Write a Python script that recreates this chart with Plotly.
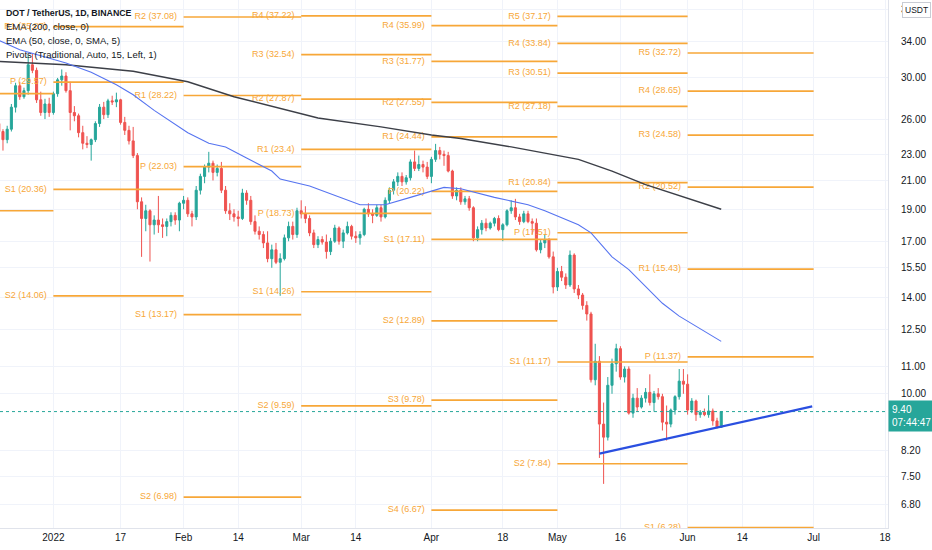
import numpy as np
import pandas as pd
import plotly.graph_objects as go

FONT = "Liberation Sans, Arial, sans-serif"
UP, DOWN = "#26a69a", "#ef5350"
PIVOT_COLOR = "#f7a738"

# --- daily DOT/USDT candles, first one is 2021-12-19 ------------------------
FIRST_CANDLE = "2021-12-19"
OPEN = [
    # Dec
    25.6, 24.9, 24.2, 25.1, 27.1, 29.2, 28.1, 28.7, 31.4, 30.8, 27.8, 26.6, 27.4,
    # Jan
    26.6, 28.4, 29.8, 30.2, 28.7, 26.6, 26.3, 24.8, 23.9, 23.8, 24.2, 25.6, 27.1, 26.4, 27.7,
    27.6, 27.8, 25.7, 25.0, 24.1, 22.9, 19.5, 18.4, 18.9, 18.0, 18.3, 18.0, 17.9, 18.2, 18.6, 18.3,
    # Feb
    19.4, 19.6, 18.7, 18.5, 20.3, 21.3, 22.0, 22.3, 21.6, 21.9, 20.3, 18.9, 18.7, 18.5,
    18.4, 20.1, 19.6, 18.2, 17.6, 17.4, 16.9, 16.0, 16.5, 15.8, 16.0, 17.2, 17.9, 17.4,
    # Mar
    18.9, 18.7, 18.4, 17.5, 16.8, 17.1, 16.95, 16.4, 17.0, 17.8, 17.0, 17.5, 17.9, 17.3, 17.2,
    17.4, 19.0, 18.7, 18.6, 19.1, 18.5, 19.6, 20.3, 20.9, 21.3, 20.9, 21.2, 22.4, 21.9, 22.2, 22.0,
    # Apr
    21.3, 22.6, 23.3, 23.0, 22.9, 21.7, 19.9, 20.3, 19.5, 19.7, 19.1, 17.2, 17.7, 18.1, 17.8,
    18.1, 18.4, 17.7, 18.0, 18.9, 19.1, 18.5, 18.2, 18.7, 18.2, 18.1, 16.5, 16.9, 17.1, 16.1,
    # May
    14.5, 15.3, 15.0, 14.6, 16.2, 14.4, 14.1, 13.6, 13.2, 10.5, 11.2, 9.0, 8.6, 10.3, 11.1,
    11.7, 10.6, 10.9, 9.35, 9.85, 9.55, 9.85, 10.05, 9.7, 10.0, 9.9, 9.06, 9.0, 9.45, 9.9, 10.45,
    # Jun
    10.34, 9.45, 9.75, 9.3, 9.38, 9.3, 9.42, 9.1, 8.9,
]
HIGH = [
    26.3, 25.1, 25.4, 27.4, 29.5, 29.6, 29.0, 32.5, 32.6, 31.1, 28.6, 27.9, 28.0,
    28.6, 30.0, 30.9, 30.6, 29.6, 27.2, 26.5, 25.4, 24.5, 24.3, 25.8, 27.4, 27.6, 27.9, 28.2,
    28.5, 27.9, 26.2, 25.4, 25.3, 23.1, 19.8, 19.3, 19.0, 18.6, 19.9, 18.4, 18.4, 18.8, 18.8, 19.5,
    19.9, 19.8, 18.9, 20.6, 21.5, 22.2, 23.2, 22.5, 22.2, 22.4, 20.6, 19.4, 19.0, 18.9,
    20.4, 20.3, 19.9, 18.6, 17.9, 17.6, 17.6, 16.8, 16.9, 16.3, 17.4, 18.2, 18.2, 19.1,
    19.6, 19.2, 18.6, 17.7, 17.3, 17.3, 17.4, 17.2, 18.0, 17.9, 17.7, 18.2, 18.0, 17.6, 17.6,
    19.1, 19.4, 19.0, 19.3, 19.3, 19.8, 20.5, 21.1, 21.6, 21.6, 21.4, 22.6, 23.3, 22.9, 22.5, 22.4,
    22.8, 23.85, 23.6, 23.3, 23.2, 21.8, 20.5, 20.5, 19.9, 19.9, 19.2, 17.9, 18.3, 18.4, 18.2,
    18.5, 18.6, 18.1, 19.0, 19.6, 19.7, 18.7, 18.9, 18.9, 18.4, 18.4, 17.1, 17.4, 17.2, 16.4,
    15.5, 15.6, 15.2, 16.46, 16.3, 14.6, 14.2, 13.8, 13.3, 11.9, 11.4, 9.7, 10.6, 11.3, 11.9,
    11.8, 11.0, 11.0, 10.0, 10.2, 9.95, 10.2, 10.7, 10.1, 10.2, 10.0, 9.6, 9.5, 9.95, 10.9, 10.9,
    10.7, 9.85, 9.8, 9.45, 9.5, 9.95, 9.5, 9.2, 9.42,
]
LOW = [
    24.6, 23.3, 23.9, 24.9, 26.6, 27.8, 27.9, 28.3, 30.5, 27.5, 26.3, 26.0, 26.2,
    26.4, 28.1, 29.2, 28.5, 25.0, 25.8, 24.4, 23.4, 23.5, 22.5, 24.0, 25.3, 26.0, 26.1, 27.3,
    27.1, 25.5, 24.6, 23.8, 22.7, 19.0, 16.1, 17.6, 15.84, 17.4, 17.5, 17.2, 17.3, 17.9, 18.0, 17.6,
    19.0, 18.5, 17.9, 18.3, 20.0, 20.8, 21.6, 21.0, 21.3, 20.1, 18.7, 18.3, 18.2, 17.9,
    18.3, 19.3, 18.0, 17.4, 17.1, 16.6, 15.8, 15.5, 15.7, 14.06, 15.9, 17.0, 17.1, 17.2,
    18.4, 18.1, 17.3, 16.6, 16.6, 16.8, 16.0, 16.2, 16.9, 16.8, 16.6, 17.4, 17.1, 16.9, 16.8,
    17.3, 18.5, 18.1, 18.5, 18.2, 18.4, 19.4, 20.0, 20.6, 20.6, 20.7, 21.0, 21.7, 21.7, 21.6, 21.1,
    20.8, 22.4, 22.6, 22.1, 21.6, 19.7, 19.6, 19.3, 19.3, 18.9, 17.0, 17.0, 17.4, 17.6, 17.7,
    17.9, 17.6, 17.0, 17.9, 18.7, 18.3, 18.0, 18.1, 18.1, 17.4, 16.4, 16.3, 16.6, 16.0, 14.18,
    14.3, 14.8, 14.4, 14.5, 14.2, 13.9, 13.4, 12.9, 10.4, 10.3, 8.0, 7.31, 8.5, 10.0, 10.8,
    10.5, 10.4, 9.3, 9.2, 9.4, 9.5, 9.7, 9.6, 9.4, 9.8, 8.8, 8.5, 8.9, 9.3, 9.8, 10.0,
    9.3, 9.35, 9.1, 9.2, 9.25, 9.2, 8.95, 8.86, 8.88,
]
CLOSE = [
    24.9, 24.2, 25.1, 27.1, 29.2, 28.1, 28.7, 31.4, 30.8, 27.8, 26.6, 27.4, 26.6,
    28.4, 29.8, 30.2, 28.7, 26.6, 26.3, 24.8, 23.9, 23.8, 24.2, 25.6, 27.1, 26.4, 27.7, 27.6,
    27.8, 25.7, 25.0, 24.1, 22.9, 19.5, 18.4, 18.9, 18.0, 18.3, 18.0, 17.9, 18.2, 18.6, 18.3, 19.4,
    19.6, 18.7, 18.5, 20.3, 21.3, 22.0, 22.3, 21.6, 21.9, 20.3, 18.9, 18.7, 18.5, 18.4,
    20.1, 19.6, 18.2, 17.6, 17.4, 16.9, 16.0, 16.5, 15.8, 16.0, 17.2, 17.9, 17.4, 18.9,
    18.7, 18.4, 17.5, 16.8, 17.1, 16.95, 16.4, 17.0, 17.8, 17.0, 17.5, 17.9, 17.3, 17.2, 17.4,
    19.0, 18.7, 18.6, 19.1, 18.5, 19.6, 20.3, 20.9, 21.3, 20.9, 21.2, 22.4, 21.9, 22.2, 22.0, 21.3,
    22.6, 23.3, 23.0, 22.9, 21.7, 19.9, 20.3, 19.5, 19.7, 19.1, 17.2, 17.7, 18.1, 17.8, 18.1,
    18.4, 17.7, 18.0, 18.9, 19.1, 18.5, 18.2, 18.7, 18.2, 18.1, 16.5, 16.9, 17.1, 16.1, 14.5,
    15.3, 15.0, 14.6, 16.2, 14.4, 14.1, 13.6, 13.2, 10.5, 11.2, 9.0, 8.6, 10.3, 11.1, 11.7,
    10.6, 10.9, 9.35, 9.85, 9.55, 9.85, 10.05, 9.7, 10.0, 9.9, 9.06, 9.0, 9.45, 9.9, 10.45, 10.34,
    9.45, 9.75, 9.3, 9.38, 9.3, 9.42, 9.1, 8.9, 9.40,
]
LAST_PRICE = 9.40
COUNTDOWN = "07:44:47"

# --- moving averages --------------------------------------------------------
EMA200_DATES = ["2021-12-18", "2022-01-04", "2022-01-20", "2022-02-02", "2022-02-13",
                "2022-02-24", "2022-03-05", "2022-03-20", "2022-04-01", "2022-04-08",
                "2022-04-20", "2022-05-06", "2022-05-14", "2022-05-22", "2022-06-09"]
EMA200 = [31.8, 31.4, 30.7, 29.6, 28.1, 27.0, 26.1, 25.3, 24.6, 24.3, 23.6, 22.6, 21.7, 20.7, 19.0]

EMA50_DATES = ["2021-12-18", "2021-12-24", "2022-01-04", "2022-01-10", "2022-01-16",
               "2022-01-20", "2022-01-25", "2022-02-02", "2022-02-07", "2022-02-11",
               "2022-02-16", "2022-02-22", "2022-02-24", "2022-03-03", "2022-03-15",
               "2022-03-21", "2022-03-27", "2022-04-04", "2022-04-08", "2022-04-16",
               "2022-04-24", "2022-04-28", "2022-05-06", "2022-05-09", "2022-05-14",
               "2022-05-18", "2022-05-26", "2022-05-30", "2022-06-09"]
EMA50 = [34.4, 33.1, 31.6, 30.6, 29.3, 28.3, 26.8, 24.8, 23.9, 23.6, 22.7, 21.7, 21.1, 20.6,
         19.3, 19.3, 19.8, 20.5, 20.4, 19.8, 19.3, 18.9, 18.0, 17.5, 16.1, 15.4, 13.7, 13.1, 12.0]

# --- monthly traditional pivots ---------------------------------------------
MONTH_EDGES = ["2021-12-01", "2022-01-01", "2022-02-01", "2022-03-01",
               "2022-04-01", "2022-05-01", "2022-06-01", "2022-07-01"]
PIVOTS_DEC = {"S1": 28.40, "S2": 18.90}   # labels sit off-screen to the left
PIVOTS_JAN = {"R1": 35.87, "P": 29.57, "S1": 20.36, "S2": 14.06}
PIVOTS_FEB = {"R2": 37.08, "R1": 28.22, "P": 22.03, "S1": 13.17, "S2": 6.98}
PIVOTS_MAR = {"R4": 37.22, "R3": 32.54, "R2": 27.87, "R1": 23.4, "P": 18.73, "S1": 14.26, "S2": 9.59}
PIVOTS_APR = {"R4": 35.99, "R3": 31.77, "R2": 27.55, "R1": 24.44, "P": 20.22,
              "S1": 17.11, "S2": 12.89, "S3": 9.78, "S4": 6.67}
PIVOTS_MAY = {"R5": 37.17, "R4": 33.84, "R3": 30.51, "R2": 27.18, "R1": 20.84,
              "P": 17.51, "S1": 11.17, "S2": 7.84}
PIVOTS_JUN = {"R5": 32.72, "R4": 28.65, "R3": 24.58, "R2": 20.52, "R1": 15.43, "P": 11.37, "S1": 6.28}
PIVOT_MONTHS = [PIVOTS_DEC, PIVOTS_JAN, PIVOTS_FEB, PIVOTS_MAR, PIVOTS_APR, PIVOTS_MAY, PIVOTS_JUN]

# --- hand-drawn support line ---------------------------------------------------
TREND_DATES = ["2022-05-11", "2022-06-30 16:00"]
TREND_VALUES = [8.12, 9.57]

X_TICKS = ["2022-01-01", "2022-01-17", "2022-02-01", "2022-02-14", "2022-03-01", "2022-03-14",
           "2022-04-01", "2022-04-18", "2022-05-01", "2022-05-16", "2022-06-01", "2022-06-14",
           "2022-07-01", "2022-07-18"]
X_TICKTEXT = ["2022", "17", "Feb", "14", "Mar", "14", "Apr", "18", "May", "16", "Jun", "14", "Jul", "18"]
Y_TICKS = [38, 34, 30, 26, 23, 21, 19, 17, 15.5, 14, 12.5, 11, 10, 8.2, 7.5, 6.8]

LEGEND_LINES = ["DOT / TetherUS, 1D, BINANCE", "EMA (200, close, 0)",
                "EMA (50, close, 0, SMA, 5)", "Pivots (Traditional, Auto, 15, Left, 1)"]

X_RANGE = ["2021-12-19 07:00", "2022-07-18 17:00"]
Y_RANGE = [np.log10(6.27), np.log10(39.34)]

# ---------------------------------------------------------------------------
dates = pd.date_range(FIRST_CANDLE, periods=len(CLOSE), freq="D")
fig = go.Figure()

# pivot segments (under the candles), label to the left of each segment
px_, py_, lx, ly, lt = [], [], [], [], []
for i, levels in enumerate(PIVOT_MONTHS):
    start, end = MONTH_EDGES[i], MONTH_EDGES[i + 1]
    for name, val in levels.items():
        px_ += [start, end, None]
        py_ += [val, val, None]
        if i > 0:
            lx.append(start)
            ly.append(val)
            lt.append(f"{name} ({val:g})")
fig.add_trace(go.Scatter(x=px_, y=py_, mode="lines", line=dict(color=PIVOT_COLOR, width=1.7),
                         hoverinfo="skip", showlegend=False))
fig.add_trace(go.Scatter(x=lx, y=ly, text=lt, mode="markers+text", textposition="middle left",
                         marker=dict(size=9, opacity=0), hoverinfo="skip", showlegend=False,
                         textfont=dict(color=PIVOT_COLOR, size=9, family=FONT)))

# last price dotted line
fig.add_trace(go.Scatter(x=X_RANGE, y=[LAST_PRICE, LAST_PRICE], mode="lines",
                         line=dict(color=UP, width=1, dash="dot"), hoverinfo="skip", showlegend=False))

fig.add_trace(go.Candlestick(x=dates, open=OPEN, high=HIGH, low=LOW, close=CLOSE,
                             increasing=dict(line=dict(color=UP, width=1), fillcolor=UP),
                             decreasing=dict(line=dict(color=DOWN, width=1), fillcolor=DOWN),
                             whiskerwidth=0, showlegend=False))

fig.add_trace(go.Scatter(x=EMA200_DATES, y=EMA200, mode="lines", line=dict(color="#3c3f47", width=1.4),
                         hoverinfo="skip", showlegend=False))
fig.add_trace(go.Scatter(x=EMA50_DATES, y=EMA50, mode="lines", line=dict(color="#5674f0", width=1.1),
                         hoverinfo="skip", showlegend=False))
fig.add_trace(go.Scatter(x=TREND_DATES, y=TREND_VALUES, mode="lines", line=dict(color="#2a4fe0", width=2.2),
                         hoverinfo="skip", showlegend=False))

# legend block, top-left
for k, line in enumerate(LEGEND_LINES):
    fig.add_annotation(x=0, xref="paper", xanchor="left", xshift=4,
                       y=1, yref="paper", yanchor="middle", yshift=-13 - 13.8 * k,
                       text=f"<b>{line}</b>" if k == 0 else line, showarrow=False,
                       font=dict(size=8.8 if k == 0 else 9.5, color="#131722", family=FONT))

# price tag on the axis
fig.add_annotation(x=1, xref="paper", xanchor="left", y=np.log10(LAST_PRICE), yref="y",
                   yanchor="middle", yshift=-4, text=f"{LAST_PRICE:.2f}<br>{COUNTDOWN}", align="left",
                   showarrow=False, bgcolor=UP, borderpad=3,
                   font=dict(size=10, color="white", family=FONT))
# currency badge
fig.add_annotation(x=1, xref="paper", xanchor="left", xshift=14, y=1, yref="paper", yanchor="top",
                   yshift=-2, text="USDT", showarrow=False, bgcolor="white", bordercolor="#c9ccd4",
                   borderwidth=1, borderpad=2, font=dict(size=8.5, color="#131722", family=FONT))

fig.update_layout(
    width=932, height=550, margin=dict(l=0, r=44, t=0, b=22),
    paper_bgcolor="white", plot_bgcolor="white", hovermode=False, showlegend=False,
    font=dict(family=FONT, color="#131722"),
    xaxis=dict(type="date", range=X_RANGE, tickvals=X_TICKS, ticktext=X_TICKTEXT,
               showgrid=True, gridcolor="#f0f3fa", showline=True, linecolor="#e0e3eb",
               ticks="", tickfont=dict(size=10, color="#131722"), rangeslider=dict(visible=False),
               fixedrange=True),
    yaxis=dict(type="log", side="right", range=Y_RANGE, tickvals=Y_TICKS,
               ticktext=[f"{v:.2f}" for v in Y_TICKS], showgrid=True, gridcolor="#f0f3fa",
               showline=True, linecolor="#e0e3eb", zeroline=False, ticks="",
               ticklabelstandoff=10, tickfont=dict(size=10, color="#131722"), fixedrange=True),
)

# the page's default body margin would push the chart 8px right/down
fig.write_html("out.html", config={"displayModeBar": False},
               post_script="document.body.style.margin='0';document.body.style.overflow='hidden';")
